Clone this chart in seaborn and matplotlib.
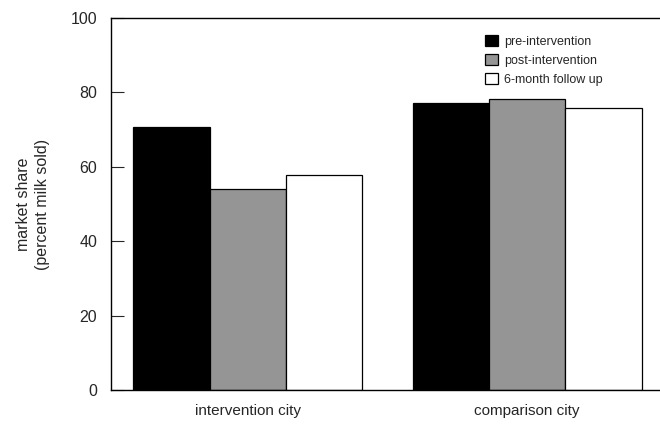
import matplotlib
matplotlib.use("Agg")
import matplotlib.pyplot as plt
import seaborn as sns
import pandas as pd

cities = ["intervention city", "comparison city"]
periods = ["pre-intervention", "post-intervention", "6-month follow up"]
pre_values = [70.8, 77.2]
post_values = [54.0, 78.2]
follow_values = [57.8, 75.9]
yticks = [0, 20, 40, 60, 80, 100]

rows = []
for per, vals in zip(periods, [pre_values, post_values, follow_values]):
    for c, v in zip(cities, vals):
        rows.append({"city": c, "period": per, "share": v})
df = pd.DataFrame(rows)

sns.set_style("white")
plt.rcParams["font.family"] = ["Liberation Sans", "DejaVu Sans"]

fig = plt.figure(figsize=(6.6, 4.26), dpi=100)
ax = fig.add_axes([111 / 660, 36 / 426, (664 - 111) / 660, (390 - 18) / 426])

sns.barplot(data=df, x="city", y="share", hue="period", order=cities,
            hue_order=periods, palette=["#000000", "#959595", "#ffffff"],
            edgecolor="black", linewidth=0.9, width=0.82, gap=0,
            saturation=1, ax=ax, errorbar=None)

ax.set_xlim(-0.49, 1.49)
ax.set_ylim(0, 100)
ax.set_yticks(yticks)
ax.set_yticklabels([str(t) for t in yticks], fontsize=11.5)
ax.tick_params(axis="y", direction="in", length=9, width=0.8, pad=10, left=True)
ax.tick_params(axis="x", length=0, pad=10, labelsize=11)
ax.set_xlabel("")
ax.set_ylabel("market share\n(percent milk sold)", fontsize=11.5, labelpad=15,
              linespacing=1.3)
for side in ["left", "top", "bottom"]:
    ax.spines[side].set_visible(True)
    ax.spines[side].set_color("black")
    ax.spines[side].set_linewidth(1.0)
ax.spines["right"].set_visible(False)

sns.move_legend(ax, "upper left", bbox_to_anchor=(485 / 660, 1 - 35 / 426),
                bbox_transform=fig.transFigure, frameon=False, title=None,
                fontsize=9, handlelength=1.0, handleheight=1.0,
                handletextpad=0.55, labelspacing=0.5, borderpad=0,
                borderaxespad=0)

fig.savefig("out.png", dpi=100)
